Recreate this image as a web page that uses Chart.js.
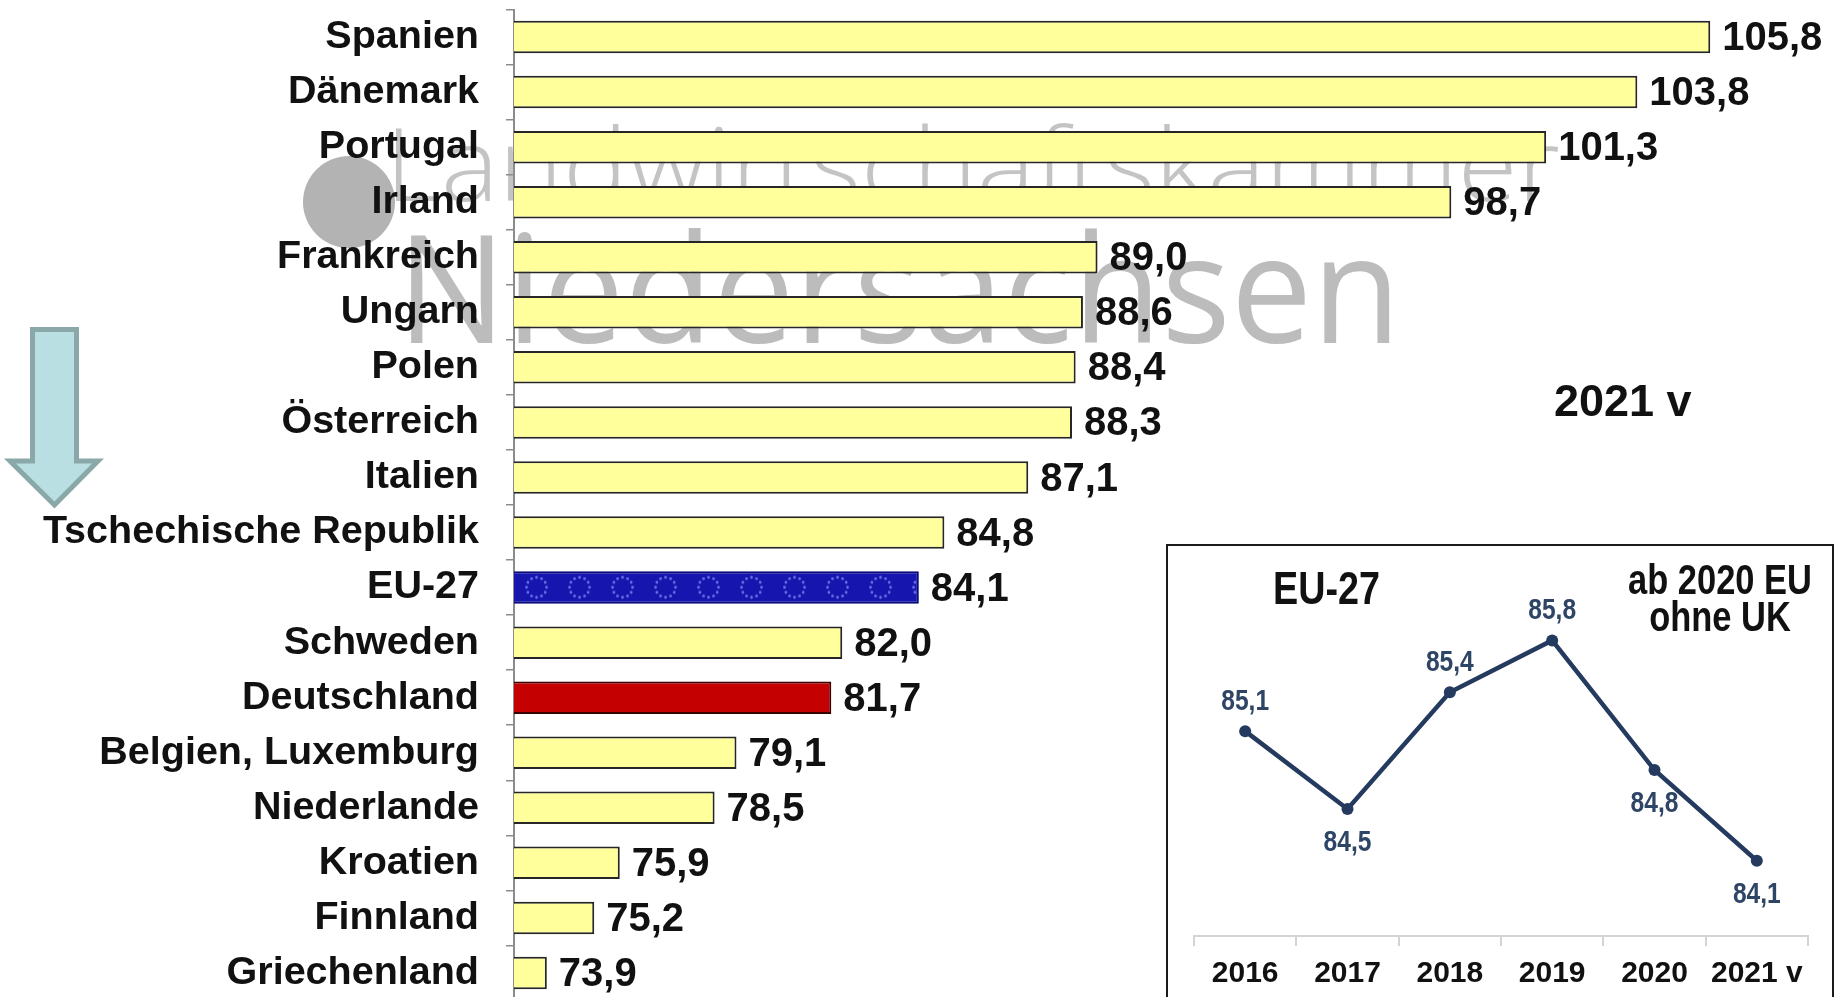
<!DOCTYPE html>
<html><head><meta charset="utf-8">
<script src="https://cdn.jsdelivr.net/npm/chart.js@4"></script>
<style>
html,body{margin:0;padding:0;background:#fff;overflow:hidden;width:1839px;height:997px;}
#main{position:absolute;left:0;top:0;width:1839px;height:1010px;}
#insetBox{position:absolute;left:1166px;top:544px;width:668px;height:470px;border:2px solid #1a1a1a;box-sizing:border-box;background:#fff;}
#inset{position:absolute;left:1168px;top:546px;width:664px;height:460px;}
</style></head><body>
<canvas id="main" width="1839" height="1010"></canvas>
<div id="insetBox"></div>
<canvas id="inset" width="664" height="460"></canvas>
<script>
// ---- data ----
const categories = ['Spanien','Dänemark','Portugal','Irland','Frankreich','Ungarn','Polen','Österreich','Italien','Tschechische Republik','EU-27','Schweden','Deutschland','Belgien, Luxemburg','Niederlande','Kroatien','Finnland','Griechenland'];
const values = [105.8,103.8,101.3,98.7,89.0,88.6,88.4,88.3,87.1,84.8,84.1,82.0,81.7,79.1,78.5,75.9,75.2,73.9];
const insetYears = ['2016','2017','2018','2019','2020','2021 v'];
const insetValues = [85.1,84.5,85.4,85.8,84.8,84.1];

// ---- helpers ----
function hasFont(name){
  const c=document.createElement('canvas').getContext('2d');
  const s='abcdefghij 2016 EU';
  c.font='bold 40px monospace'; const a=c.measureText(s).width;
  c.font='bold 40px "'+name+'", monospace'; const b=c.measureText(s).width;
  return Math.abs(a-b)>0.5;
}
const NARROW = hasFont('Liberation Sans Narrow');
const narrowFam = NARROW ? '"Liberation Sans Narrow", "Liberation Sans", Arial' : '"Liberation Sans", Arial';
const nsz = s => NARROW ? s : Math.round(s*0.82);
const fmt = v => v.toFixed(1).replace('.', ',');

function narrowText(ctx, text, x, y, size, color, align){
  ctx.save();
  ctx.fillStyle=color; ctx.textAlign=align||'center'; ctx.textBaseline='alphabetic';
  if(NARROW){ ctx.font='bold '+size+'px "Liberation Sans Narrow"'; ctx.fillText(text,x,y); }
  else { ctx.font='bold '+size+'px "Liberation Sans", Arial'; ctx.translate(x,y); ctx.scale(0.82,1); ctx.fillText(text,0,0); }
  ctx.restore();
}
function fitText(ctx, text, font, color, left, right, baseline){
  ctx.save();
  ctx.font=font; ctx.fillStyle=color; ctx.textAlign='left'; ctx.textBaseline='alphabetic';
  const w=ctx.measureText(text).width;
  ctx.translate(left, baseline); ctx.scale((right-left)/w, 1);
  ctx.fillText(text,0,0);
  ctx.restore();
}

// ---- EU pattern ----
const tile=document.createElement('canvas'); tile.width=43; tile.height=32;
(function(){
  const t=tile.getContext('2d');
  t.fillStyle='#1616ae'; t.fillRect(0,0,43,32);
  t.fillStyle='#7070ea';
  for(let i=0;i<12;i++){
    const a=i*Math.PI/6;
    t.beginPath(); t.arc(21.5+10*Math.cos(a),16+10*Math.sin(a),1.4,0,Math.PI*2); t.fill();
  }
})();
const euPattern=document.createElement('canvas').getContext('2d').createPattern(tile,'repeat');

const bgColors = categories.map(c => c==='EU-27' ? euPattern : (c==='Deutschland' ? '#c40000' : '#ffff9c'));
const bdColors = categories.map(c => c==='EU-27' ? '#0a0a78' : (c==='Deutschland' ? '#3a0000' : '#262626'));

// ---- main chart plugins ----
const decorPlugin = {
  id:'decor',
  beforeDraw(chart){
    const ctx=chart.ctx;
    // watermark
    ctx.save();
    ctx.fillStyle='#b3b3b3';
    ctx.beginPath(); ctx.arc(349,202,46,0,Math.PI*2); ctx.fill();
    ctx.restore();
    fitText(ctx,'Landwirtschaftskammer','300 102px "Open Sans"','#c4c4c4',385,1560,201);
    fitText(ctx,'Niedersachsen','400 150px "Open Sans"','#bcbcbc',397,1401,343);
    // arrow
    ctx.save();
    ctx.beginPath();
    ctx.moveTo(32.5,329.5); ctx.lineTo(76.5,329.5); ctx.lineTo(76.5,461);
    ctx.lineTo(98,461); ctx.lineTo(54.5,505); ctx.lineTo(10,461); ctx.lineTo(32.5,461);
    ctx.closePath();
    ctx.fillStyle='#b9dfe2'; ctx.fill();
    ctx.lineWidth=5; ctx.strokeStyle='#8aa8a8'; ctx.lineJoin='miter'; ctx.stroke();
    ctx.restore();
  },
  beforeDatasetsDraw(chart){
    const meta=chart.getDatasetMeta(0);
    const idx=categories.indexOf('EU-27');
    const bar=meta.data[idx];
    if(bar){
      const top=bar.y-bar.height/2;
      euPattern.setTransform(new DOMMatrix().translate(chart.chartArea.left+1, top));
    }
  },
  afterDatasetsDraw(chart){
    const ctx=chart.ctx;
    const meta=chart.getDatasetMeta(0);
    ctx.save();
    ctx.font='bold 40px "Liberation Sans", Arial';
    ctx.fillStyle='#111'; ctx.textAlign='left'; ctx.textBaseline='middle';
    meta.data.forEach((bar,i)=>{ ctx.fillText(fmt(values[i]), bar.x+12, bar.y+2); });
    ctx.font='bold 45px "Liberation Sans", Arial';
    ctx.textBaseline='alphabetic';
    ctx.fillText('2021 v', 1554, 416);
    ctx.restore();
  }
};

new Chart(document.getElementById('main'), {
  type:'bar',
  data:{labels:categories, datasets:[{data:values, backgroundColor:bgColors, borderColor:bdColors, borderWidth:2, barPercentage:0.59, categoryPercentage:1}]},
  options:{
    indexAxis:'y', responsive:false, animation:false, devicePixelRatio:1,
    layout:{padding:{top:9.5,bottom:9.5,left:0,right:0}},
    plugins:{legend:{display:false}, tooltip:{enabled:false}},
    scales:{
      x:{type:'linear', min:73, max:109.33, display:false},
      y:{
        grid:{display:true, drawOnChartArea:false, tickLength:8, color:'#8c8c8c', lineWidth:1.5, offset:true},
        border:{display:true, color:'#8c8c8c', width:2},
        ticks:{padding:27, color:'#111', autoSkip:false, font:{family:'"Liberation Sans", Arial', weight:'bold', size:39.5}},
        afterFit(s){ s.width=514; s.paddingTop=0; s.paddingBottom=0; }
      }
    }
  },
  plugins:[decorPlugin]
});

// ---- inset chart ----
const labelSide=['above','below','above','above','below','below'];
const insetPlugin={
  id:'insetDecor',
  afterDatasetsDraw(chart){
    const ctx=chart.ctx;
    const meta=chart.getDatasetMeta(0);
    meta.data.forEach((pt,i)=>{
      const dy = labelSide[i]==='above' ? -32 : 31;
      narrowText(ctx, fmt(insetValues[i]), pt.x, pt.y+dy+11, 30, '#2f4566', 'center');
    });
    // titles (canvas origin at page 1168,546)
    narrowText(ctx,'EU-27',1326.5-1168,604-546,46,'#111','center');
    narrowText(ctx,'ab 2020 EU',1720-1168,593.5-546,42,'#111','center');
    narrowText(ctx,'ohne UK',1720-1168,631-546,42,'#111','center');
  }
};

new Chart(document.getElementById('inset'), {
  type:'line',
  data:{labels:insetYears, datasets:[{data:insetValues, borderColor:'#243a5e', backgroundColor:'#243a5e', borderWidth:4.5, pointRadius:6, pointBackgroundColor:'#243a5e', pointBorderWidth:0, tension:0, fill:false}]},
  options:{
    responsive:false, animation:false, devicePixelRatio:1,
    layout:{padding:{left:26,right:24,top:14,bottom:0}},
    plugins:{legend:{display:false}, tooltip:{enabled:false}},
    scales:{
      x:{type:'category', offset:true,
        grid:{offset:true, drawOnChartArea:false, tickLength:10, color:'#d4d4d4', lineWidth:2},
        border:{display:true, color:'#d4d4d4', width:2},
        ticks:{padding:10, color:'#111', autoSkip:false, maxRotation:0, font:{family:narrowFam, weight:'bold', size:nsz(36)}},
        afterFit(s){ s.height=70; }
      },
      y:{display:false, min:83.52, max:86.42}
    }
  },
  plugins:[insetPlugin]
});
</script>
</body></html>
